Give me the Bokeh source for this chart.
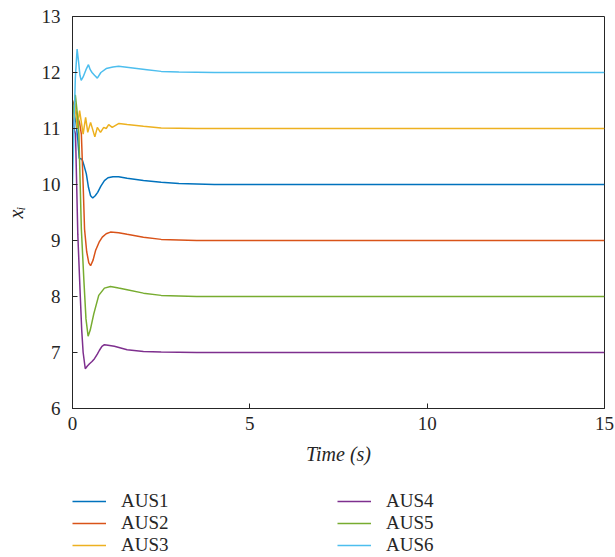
from bokeh.plotting import figure
from bokeh.layouts import column
from bokeh.models import Legend, LegendItem, FixedTicker, Range1d
from bokeh.embed import file_html
from bokeh.resources import INLINE

series_names = ["AUS1", "AUS2", "AUS3", "AUS4", "AUS5", "AUS6"]
series_colors = ["#0072BD", "#D95319", "#EDB120", "#7E2F8E", "#77AC30", "#4DBEEE"]

t_aus1 = [0, 0.1, 0.15, 0.19, 0.27, 0.32, 0.39, 0.45, 0.51, 0.57, 0.64, 0.71, 0.8, 0.9, 1.0, 1.14, 1.3, 1.54, 2.0, 2.5, 3.0, 4.0, 15]
x_aus1 = [11.4, 11.1, 10.8, 10.47, 10.45, 10.35, 10.19, 9.95, 9.8, 9.76, 9.8, 9.86, 9.97, 10.07, 10.12, 10.14, 10.14, 10.11, 10.07, 10.04, 10.02, 10.0, 10.0]

t_aus2 = [0, 0.1, 0.2, 0.25, 0.3, 0.34, 0.4, 0.46, 0.51, 0.58, 0.65, 0.75, 0.84, 0.95, 1.07, 1.3, 1.54, 2.0, 2.5, 3.5, 15]
x_aus2 = [11.5, 11.3, 11.1, 10.9, 10.0, 9.2, 8.8, 8.6, 8.55, 8.65, 8.82, 8.97, 9.06, 9.12, 9.15, 9.14, 9.11, 9.06, 9.02, 9.0, 9.0]

t_aus3 = [0, 0.07, 0.13, 0.2, 0.3, 0.37, 0.43, 0.51, 0.63, 0.7, 0.79, 0.88, 0.95, 1.02, 1.12, 1.31, 1.54, 2.0, 2.5, 3.5, 15]
x_aus3 = [11.0, 11.45, 11.0, 11.32, 10.9, 11.2, 10.93, 11.11, 10.85, 11.02, 10.93, 11.02, 11.0, 11.07, 11.02, 11.09, 11.07, 11.04, 11.01, 11.0, 11.0]

t_aus4 = [0, 0.06, 0.085, 0.15, 0.22, 0.26, 0.3, 0.36, 0.42, 0.48, 0.55, 0.62, 0.7, 0.76, 0.83, 0.9, 1.0, 1.18, 1.54, 2.0, 2.5, 3.5, 15]
x_aus4 = [11.2, 10.95, 10.9, 9.1, 8.0, 7.4, 7.0, 6.71, 6.76, 6.8, 6.84, 6.89, 6.97, 7.04, 7.11, 7.14, 7.13, 7.11, 7.05, 7.02, 7.01, 7.0, 7.0]

t_aus5 = [0, 0.08, 0.13, 0.18, 0.25, 0.32, 0.38, 0.44, 0.5, 0.6, 0.74, 0.9, 1.07, 1.3, 1.54, 2.0, 2.5, 3.5, 15]
x_aus5 = [11.2, 11.6, 11.3, 10.9, 9.2, 8.3, 7.6, 7.29, 7.4, 7.69, 8.02, 8.15, 8.18, 8.15, 8.12, 8.06, 8.02, 8.0, 8.0]

t_aus6 = [0, 0.04, 0.08, 0.13, 0.17, 0.21, 0.245, 0.3, 0.38, 0.45, 0.5, 0.55, 0.62, 0.7, 0.8, 0.95, 1.14, 1.3, 1.7, 2.1, 2.5, 3.0, 4.0, 15]
x_aus6 = [10.0, 11.0, 11.9, 12.42, 12.2, 11.95, 11.86, 11.92, 12.05, 12.14, 12.05, 12.0, 11.95, 11.9, 12.0, 12.07, 12.1, 12.11, 12.08, 12.05, 12.02, 12.01, 12.0, 12.0]

x_ticks = [0, 5, 10, 15]
y_ticks = [6, 7, 8, 9, 10, 11, 12, 13]

all_t = [t_aus1, t_aus2, t_aus3, t_aus4, t_aus5, t_aus6]
all_x = [x_aus1, x_aus2, x_aus3, x_aus4, x_aus5, x_aus6]

FONT = "Liberation Serif"
TXT = "#262626"

p = figure(width=615, height=470, output_backend="svg", toolbar_location=None,
           x_range=Range1d(0, 15), y_range=Range1d(6, 13),
           min_border_left=72, min_border_right=11, min_border_top=16,
           min_border_bottom=62)
p.grid.visible = False
p.outline_line_color = TXT
p.outline_line_width = 1
p.background_fill_color = "white"
p.border_fill_color = "white"

for t, x, c in zip(all_t, all_x, series_colors):
    p.line(t, x, line_color=c, line_width=1.5)

for ax in (p.xaxis[0], p.yaxis[0]):
    ax.axis_line_color = TXT
    ax.major_tick_line_color = TXT
    ax.major_tick_in = 5
    ax.major_tick_out = 0
    ax.minor_tick_line_color = None
    ax.major_label_text_font = FONT
    ax.major_label_text_font_size = "19px"
    ax.major_label_text_color = TXT
    ax.axis_label_text_font = FONT
    ax.axis_label_text_font_size = "20px"
    ax.axis_label_text_font_style = "italic"
    ax.axis_label_text_color = TXT

p.xaxis[0].ticker = FixedTicker(ticks=x_ticks)
p.yaxis[0].ticker = FixedTicker(ticks=y_ticks)
p.xaxis[0].axis_label = "Time (s)"
p.yaxis[0].axis_label = "xᵢ"
p.xaxis[0].major_label_standoff = 8
p.xaxis[0].axis_label_standoff = 10
p.yaxis[0].major_label_standoff = 12
p.yaxis[0].axis_label_standoff = 12

# legend panel below the plot
lg = figure(width=615, height=87, output_backend="svg", toolbar_location=None,
            x_range=Range1d(0, 1), y_range=Range1d(0, 1),
            x_axis_location=None, y_axis_location=None,
            min_border_left=0, min_border_right=0, min_border_top=0,
            min_border_bottom=0)
lg.grid.visible = False
lg.outline_line_color = None
lg.background_fill_color = "white"
lg.border_fill_color = "white"

# legend-only renderers (kept outside the visible range of this panel)
renderers = []
for c in series_colors:
    r = lg.line([5, 6], [5, 6], line_color=c, line_width=1.5)
    renderers.append(r)

items = [LegendItem(label=n, renderers=[r]) for n, r in zip(series_names, renderers)]
legend = Legend(items=items, orientation="vertical", nrows=3,
                glyph_width=34, glyph_height=20, label_standoff=15,
                label_width=216, label_height=20, spacing=0, padding=0, margin=0,
                border_line_color=None, background_fill_alpha=0,
                label_text_font=FONT, label_text_font_size="19px",
                label_text_color=TXT, location=(0, 1))
lg.add_layout(legend, "center")

layout = column(p, lg, spacing=0)
open("out.html", "w").write(file_html(layout, INLINE))
